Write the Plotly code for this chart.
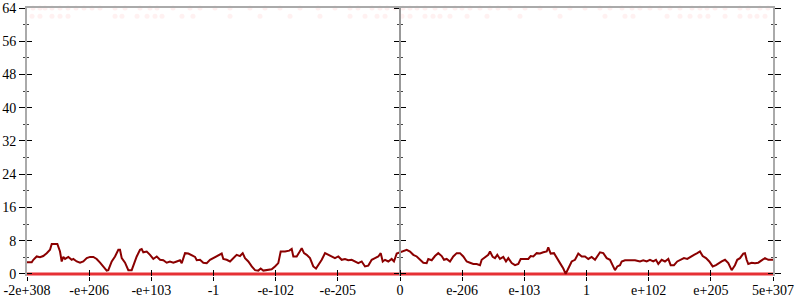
import plotly.graph_objects as go

# x axis: one unit per labelled tick (ordered-float scale)
tick_pos = [-6, -5, -4, -3, -2, -1, 0, 1, 2, 3, 4, 5, 6]
tick_labels = ["-2e+308", "-e+206", "-e+103", "-1", "-e-102", "-e-205", "0",
               "e-206", "e-103", "1", "e+102", "e+205", "5e+307"]
y_tick_step = 8
y_max = 64

# smoothed (dark red) series
line_x = [-6.000, -5.924, -5.898, -5.844, -5.791, -5.738, -5.683, -5.630, -5.602, -5.549,
          -5.512, -5.469, -5.442, -5.416, -5.388, -5.335, -5.281, -5.255, -5.200, -5.147,
          -5.094, -5.039, -4.986, -4.933, -4.879, -4.825, -4.772, -4.718, -4.692, -4.637,
          -4.584, -4.531, -4.504, -4.476, -4.423, -4.370, -4.316, -4.290, -4.235, -4.182,
          -4.155, -4.129, -4.074, -4.021, -3.968, -3.913, -3.860, -3.807, -3.753, -3.700,
          -3.646, -3.592, -3.539, -3.511, -3.458, -3.405, -3.351, -3.297, -3.270, -3.217,
          -3.164, -3.109, -3.056, -3.003, -2.948, -2.868, -2.842, -2.788, -2.734, -2.681,
          -2.627, -2.574, -2.530, -2.493, -2.440, -2.385, -2.332, -2.279, -2.241, -2.199,
          -2.118, -2.064, -2.011, -1.958, -1.919, -1.850, -1.781, -1.742, -1.716, -1.662,
          -1.620, -1.581, -1.544, -1.501, -1.448, -1.395, -1.351, -1.314, -1.259, -1.206,
          -1.153, -1.099, -1.046, -0.992, -0.938, -0.885, -0.832, -0.777, -0.724, -0.671,
          -0.616, -0.563, -0.510, -0.455, -0.402, -0.349, -0.310, -0.278, -0.241, -0.188,
          -0.134, -0.097, -0.053, 0.000, 0.053, 0.108, 0.161, 0.214, 0.269, 0.322,
          0.375, 0.429, 0.455, 0.510, 0.563, 0.616, 0.671, 0.708, 0.751, 0.804,
          0.857, 0.912, 0.965, 1.018, 1.073, 1.126, 1.179, 1.234, 1.287, 1.314,
          1.367, 1.420, 1.448, 1.491, 1.528, 1.565, 1.608, 1.662, 1.705, 1.742,
          1.797, 1.850, 1.903, 1.941, 2.011, 2.064, 2.102, 2.144, 2.199, 2.252,
          2.305, 2.360, 2.385, 2.424, 2.477, 2.520, 2.574, 2.627, 2.665, 2.707,
          2.762, 2.815, 2.868, 2.923, 2.976, 3.029, 3.083, 3.137, 3.190, 3.217,
          3.270, 3.325, 3.378, 3.421, 3.458, 3.495, 3.539, 3.566, 3.619, 3.700,
          3.780, 3.860, 3.913, 3.968, 4.021, 4.074, 4.118, 4.155, 4.209, 4.262,
          4.316, 4.354, 4.407, 4.460, 4.515, 4.568, 4.621, 4.676, 4.729, 4.782,
          4.825, 4.869, 4.922, 4.975, 5.030, 5.083, 5.136, 5.175, 5.228, 5.281,
          5.335, 5.388, 5.425, 5.469, 5.522, 5.549, 5.576, 5.602, 5.657, 5.710,
          5.763, 5.818, 5.871, 5.924, 6.000]
line_y = [2.8, 2.8, 3.4, 4.2, 4.0, 4.3, 5.0, 5.8, 7.2, 7.3,
          7.2, 5.4, 3.0, 4.1, 3.6, 4.1, 3.4, 3.6, 3.0, 2.7,
          3.0, 3.8, 4.1, 4.1, 3.6, 2.7, 1.8, 0.8, 0.9, 3.0,
          4.2, 5.8, 5.8, 3.8, 2.7, 0.9, 0.9, 2.1, 4.2, 5.8,
          6.0, 5.2, 5.4, 4.6, 3.6, 4.2, 3.4, 3.3, 2.7, 3.0,
          2.7, 3.0, 3.3, 2.6, 5.0, 4.9, 4.4, 4.1, 3.3, 3.4,
          2.7, 2.6, 3.4, 3.8, 4.2, 4.9, 3.6, 3.4, 3.0, 3.8,
          4.6, 4.3, 5.0, 3.8, 3.0, 1.8, 0.9, 0.8, 1.3, 0.8,
          0.9, 1.1, 1.8, 2.6, 5.4, 5.4, 5.6, 6.0, 4.2, 4.2,
          5.2, 6.2, 5.0, 4.6, 3.8, 1.8, 1.3, 2.1, 3.4, 5.0,
          4.6, 4.3, 3.8, 4.2, 3.4, 3.6, 3.3, 3.4, 3.0, 2.6,
          3.0, 1.8, 2.0, 3.4, 3.8, 4.2, 5.0, 3.0, 3.4, 3.0,
          3.6, 3.0, 4.9, 5.2, 5.4, 5.8, 5.4, 4.6, 4.2, 3.4,
          2.7, 2.6, 3.6, 3.3, 4.3, 5.0, 4.3, 3.4, 3.6, 3.0,
          4.2, 5.0, 5.0, 4.2, 3.0, 2.7, 2.4, 2.4, 2.1, 3.4,
          4.1, 4.6, 5.4, 4.1, 3.8, 4.6, 3.6, 4.1, 3.0, 3.8,
          2.6, 2.1, 2.4, 3.6, 3.6, 3.6, 4.3, 4.2, 5.0, 4.9,
          5.2, 5.4, 6.4, 4.9, 5.0, 3.8, 2.6, 1.3, 0.0, 1.3,
          3.0, 3.4, 4.9, 4.2, 4.2, 3.6, 4.1, 3.4, 4.6, 5.2,
          5.0, 3.8, 3.4, 1.8, 0.9, 1.8, 2.1, 3.0, 3.3, 3.3,
          3.3, 3.0, 3.3, 3.0, 3.4, 3.0, 3.4, 2.4, 3.4, 3.0,
          3.6, 2.1, 2.1, 3.0, 3.4, 3.8, 3.6, 4.2, 4.6, 5.0,
          5.4, 4.3, 3.8, 3.0, 1.8, 2.1, 2.7, 3.0, 3.4, 2.6,
          0.9, 2.1, 3.4, 3.8, 4.9, 5.0, 3.4, 2.4, 2.7, 2.6,
          2.7, 3.3, 3.8, 3.4, 3.4]

# raw samples: most are 0, a few sit at 64 and 62 (drawn very faint)
zero_x = [-6, 6]
zero_y = [0, 0]
top64_x = [-5.903, -5.791, -5.710, -5.598, -5.469, -5.340, -5.212, -5.083, -4.954, -4.825,
           -4.584, -4.423, -4.182, -4.021, -3.909, -3.651, -3.378, -3.217, -2.976, -2.734,
           -2.413, -2.172, -1.930, -1.608, -1.319, -1.046, -0.804, -0.676, -0.450, -0.322,
           -0.209, -0.080, 0.048, 0.161, 0.273, 0.402, 0.563, 0.724, 0.885, 0.997,
           1.126, 1.287, 1.448, 1.576, 1.769, 2.011, 2.252, 2.493, 2.734, 2.976,
           3.217, 3.378, 3.571, 3.732, 3.860, 4.021, 4.182, 4.343, 4.504, 4.697,
           4.825, 4.938, 5.067, 5.228, 5.469, 5.598, 5.791, 5.919]
top62_x = [-5.919, -5.791, -5.598, -5.469, -5.340, -4.584, -4.472, -4.230, -4.069, -3.941,
           -3.828, -3.507, -3.330, -2.734, -2.252, -1.769, -1.287, -0.804, -0.563, -0.370,
           -0.241, 0.032, 0.161, 0.402, 0.531, 0.643, 0.804, 1.078, 1.399, 1.930,
           2.574, 3.297, 3.619, 3.748, 4.295, 4.504, 4.665, 4.825, 4.954, 5.228,
           5.469, 5.630, 5.742, 5.871]
top64_y = [64] * len(top64_x)
top62_y = [62] * len(top62_x)

FONT = dict(family="Liberation Serif", size=14, color="black")
AXIS_GRAY = "#aaaaaa"
Y_RANGE = [-0.5, y_max]
X_RANGE = [tick_pos[0], tick_pos[-1]]

fig = go.Figure()
fig.add_trace(go.Scatter(x=zero_x, y=zero_y, mode="lines",
                         line=dict(color="rgba(228,30,36,0.92)", width=3),
                         xaxis="x", yaxis="y",
                         hoverinfo="skip", showlegend=False))
fig.add_trace(go.Scatter(x=top64_x, y=top64_y, mode="markers",
                         marker=dict(size=5, color="rgba(255,60,60,0.08)"),
                         cliponaxis=False, xaxis="x", yaxis="y2",
                         hoverinfo="skip", showlegend=False))
fig.add_trace(go.Scatter(x=top62_x, y=top62_y, mode="markers",
                         marker=dict(size=5, color="rgba(255,60,60,0.07)"),
                         xaxis="x", yaxis="y3",
                         hoverinfo="skip", showlegend=False))
# empty carriers so every overlay axis gets drawn
for xa, ya in [("x", "y5"), ("x", "y6"), ("x2", "y"), ("x3", "y")]:
    fig.add_trace(go.Scatter(x=zero_x, y=zero_y, mode="none", xaxis=xa, yaxis=ya,
                             hoverinfo="skip", showlegend=False))
fig.add_trace(go.Scatter(x=line_x, y=line_y, mode="lines",
                         line=dict(color="#8b0000", width=2),
                         xaxis="x", yaxis="y4",
                         hoverinfo="skip", showlegend=False))


def yax(**kw):
    d = dict(range=Y_RANGE, showgrid=False, zeroline=False, tickmode="linear",
             tick0=0, dtick=y_tick_step, tickcolor="black", tickwidth=1,
             showticklabels=False, showline=False, fixedrange=True, ticks="outside",
             ticklen=6, tickfont=FONT, automargin=False)
    d.update(kw)
    return d


minor_out = dict(ticks="outside", ticklen=2, tickcolor="#444", dtick=4, tick0=0)
minor_in = dict(ticks="inside", ticklen=2, tickcolor="#444", dtick=4, tick0=0)

common_x = dict(range=X_RANGE, showgrid=False, zeroline=False, fixedrange=True,
                automargin=False, tickfont=FONT)

fig.update_layout(
    width=800, height=300,
    font=FONT,
    margin=dict(l=27, r=27, t=8, b=24, pad=0, autoexpand=False),
    paper_bgcolor="white", plot_bgcolor="white",
    showlegend=False,
    # labelled axis carries the upward (inside) ticks so labels sit close to the axis
    xaxis=dict(**common_x, tickmode="array", tickvals=tick_pos, ticktext=tick_labels,
               ticks="inside", ticklen=6, tickcolor="black", tickwidth=1,
               showline=False, anchor="y", ticklabelstandoff=4),
    xaxis2=dict(**common_x, overlaying="x", anchor="y", tickmode="array",
                tickvals=tick_pos, ticks="outside", ticklen=4, tickcolor="black",
                showticklabels=False, showline=False),
    xaxis3=dict(**common_x, overlaying="x", anchor="y", side="top",
                showline=True, linecolor=AXIS_GRAY, linewidth=2, ticks="",
                showticklabels=False),
    yaxis=yax(anchor="x", showline=True, linecolor=AXIS_GRAY, linewidth=2,
              showticklabels=True, minor=minor_out),
    yaxis2=yax(overlaying="y", anchor="x", ticks="inside", ticklen=5, minor=minor_in),
    yaxis3=yax(overlaying="y", anchor="free", position=0.5, side="left",
               showline=True, linecolor="#999999", linewidth=1.5, ticklen=5,
               minor=minor_out),
    yaxis4=yax(overlaying="y", anchor="free", position=0.5, side="left",
               ticks="inside", ticklen=5, minor=minor_in),
    yaxis5=yax(overlaying="y", anchor="x", side="right", showline=True,
               linecolor=AXIS_GRAY, linewidth=2, ticklen=6, minor=minor_out),
    yaxis6=yax(overlaying="y", anchor="x", side="right", ticks="inside", ticklen=5,
               minor=minor_in),
)

fig.write_html("out.html")
